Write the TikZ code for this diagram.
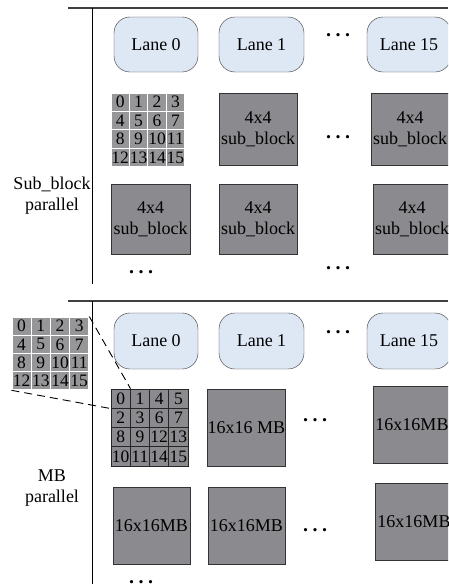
\documentclass[tikz,border=0pt]{standalone}
\usepackage{fontspec}
\setmainfont{Liberation Serif}
\usepackage{tikz}
\usetikzlibrary{positioning}

\definecolor{lanebg}{RGB}{222,232,245}
\definecolor{blkgray}{RGB}{139,139,143}
\definecolor{cellgray}{RGB}{150,150,152}
\newcommand{\lanedots}{.\hspace{4.5pt}.\hspace{4.5pt}.}

\begin{document}
\begin{tikzpicture}[x=1pt, y=-1pt,
        every node/.style={font=\fontsize{18}{21}\selectfont},
        lane/.style={draw=black!80, fill=lanebg, rounded corners=16pt, minimum width=84pt, minimum height=55pt, inner sep=0pt},
        blk/.style={draw=black!80, line width=0.7pt, fill=blkgray, minimum width=78pt, minimum height=72pt, align=center, inner sep=0pt},
        mb/.style={blk, minimum width=77pt, minimum height=77pt},
        cell/.style={draw=white, line width=1pt, fill=cellgray, minimum width=18.4pt, minimum height=18.4pt, inner sep=0pt, font=\fontsize{17.5}{18}\selectfont},
        mbcell/.style={cell, draw=black!85, line width=0.6pt, fill=blkgray, minimum width=19.25pt, minimum height=19.25pt},
        dotsnode/.style={inner sep=1pt, font=\fontsize{20}{21}\selectfont\bfseries},
        sect/.style={line width=1.2pt, black!75}]
    \useasboundingbox (0,0) rectangle (448,584);
    \clip (0,0) rectangle (448,584);

    % sub_block parallel
    \draw[sect] (68,8) -- (448,8);
    \draw[line width=1pt] (92,8) -- (92,284);
    \node[align=center] (sblabel) at (52,196) {Sub\_block\\parallel};

    \node[lane] (sl0) at (156,44.5) {Lane 0};
    \node[lane, minimum width=85pt] (sl1) at (261.5,44.5) {Lane 1};
    \node[lane] (sl15) at (409,44.5) {Lane 15};
    \node[dotsnode] (sdots1) at (338,35) {\lanedots};

    \foreach \r in {0,...,3}
        \foreach \c in {0,...,3} {
            \pgfmathtruncatemacro\n{4*\r+\c}
            \node[cell] (sa\n) at ({111+18.4*(\c+0.5)},{93+18.4*(\r+0.5)}) {\n};
        }
    \node[blk] (sb1) at (258,129) {4x4\\sub\_block};
    \node[blk] (sb15) at (410,129) {4x4\\sub\_block};
    \node[dotsnode] (sdots2) at (338,137) {\lanedots};

    \node[blk, minimum width=79pt, minimum height=70pt] (sc0) at (150.5,219.5) {4x4\\sub\_block};
    \node[blk, minimum height=70pt] (sc1) at (258,219.5) {4x4\\sub\_block};
    \node[blk, minimum height=70pt] (sc15) at (412,219.5) {4x4\\sub\_block};
    \node[dotsnode] (sdots3) at (141,272) {\lanedots};
    \node[dotsnode] (sdots4) at (338,268) {\lanedots};

    % MB parallel
    \draw[sect] (68,301) -- (448,301);
    \draw[line width=1pt] (92,301) -- (92,584);
    \node[align=center] (mblabel) at (52,488) {MB\\parallel};

    \node[lane, minimum height=56pt] (ml0) at (156,341) {Lane 0};
    \node[lane, minimum width=85pt, minimum height=56pt] (ml1) at (261.5,341) {Lane 1};
    \node[lane, minimum height=56pt] (ml15) at (409,341) {Lane 15};
    \node[dotsnode] (mdots1) at (338,332) {\lanedots};

    \foreach \r in {0,...,3}
        \foreach \c in {0,...,3} {
            \pgfmathtruncatemacro\n{4*\r+\c}
            \node[cell, minimum width=19.2pt, minimum height=18.2pt] (za\n) at ({12+19.2*(\c+0.5)},{317+18.2*(\r+0.5)}) {\n};
        }
    \foreach \r in {0,...,3}
        \foreach \c in {0,...,3} {
            \pgfmathtruncatemacro\n{4*(2*floor(\r/2)+floor(\c/2))+2*mod(\r,2)+mod(\c,2)}
            \pgfmathtruncatemacro\k{4*\r+\c}
            \node[mbcell] (mc\k) at ({111+19.25*(\c+0.5)},{389+19.25*(\r+0.5)}) {\n};
        }
    \draw[dash pattern=on 8pt off 5pt, line width=0.9pt] (za3.north east) -- (mc0.north east);
    \draw[dash pattern=on 8pt off 5pt, line width=0.9pt] (za12.south west) -- (mc0.south west);

    \node[mb] (mb1) at (246.5,427.5) {16x16 MB};
    \node[mb] (mb15) at (412,424.5) {16x16MB};
    \node[dotsnode] (mdots2) at (315,420) {\lanedots};

    \node[mb] (mc0b) at (151.5,525.5) {16x16MB};
    \node[mb] (mc1b) at (246.5,525.5) {16x16MB};
    \node[mb] (mc15b) at (414,521.5) {16x16MB};
    \node[dotsnode] (mdots3) at (315,530) {\lanedots};
    \node[dotsnode] (mdots4) at (141,582) {\lanedots};
\end{tikzpicture}
\end{document}
